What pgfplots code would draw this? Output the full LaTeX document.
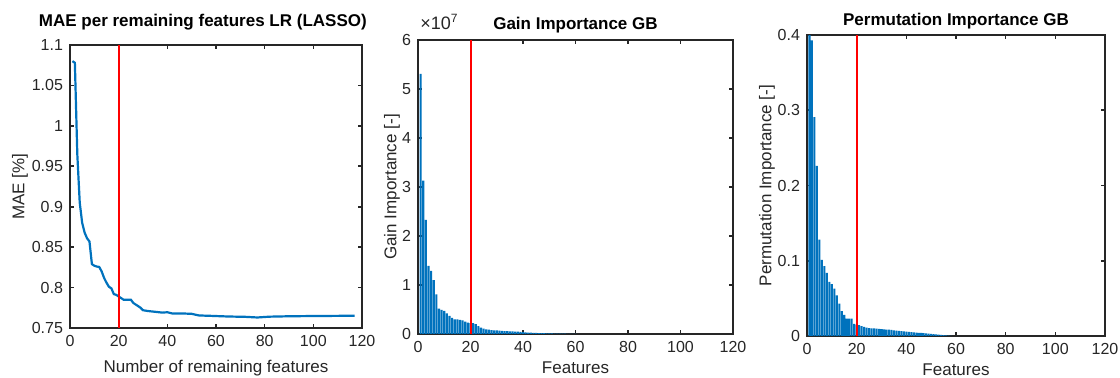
\documentclass[border=0pt]{standalone}
\usepackage{fontspec}
\setmainfont{Liberation Sans}
\usepackage{pgfplots}
\pgfplotsset{compat=1.18}
\definecolor{mblue}{rgb}{0,0.447,0.741}
\definecolor{mgray}{rgb}{0.15,0.15,0.15}
\pgfplotsset{
  mstyle/.style={
    scale only axis,
    axis line style={mgray, line width=0.8pt},
    every tick/.style={mgray, line width=0.8pt},
    major tick length=2pt,
    tick align=inside,
    xmin=0, xmax=120, xtick={0,20,40,60,80,100,120},
    tick label style={font=\fontsize{8}{9}\selectfont, text=mgray},
    label style={font=\fontsize{8.5}{10}\selectfont, text=mgray},
    every axis title/.style={at={(0.5,1)}, anchor=center, font=\fontsize{8.5}{10}\selectfont\bfseries},
    /pgf/number format/assume math mode=true,
    scaled y ticks=false,
    clip=true,
  }
}
\begin{document}
\begin{tikzpicture}
\useasboundingbox (0,0) rectangle (560pt,189pt);
% Panel 1
\begin{axis}[mstyle, at={(35pt,25pt)}, anchor=south west, width=146pt, height=141.5pt,
  ymin=0.75, ymax=1.1,
  ytick={0.75,0.8,0.85,0.9,0.95,1,1.05,1.1},
  yticklabels={0.75,0.8,0.85,0.9,0.95,1,1.05,1.1},
  title={MAE per remaining features LR (LASSO)},
  title style={at={(axis description cs:0.455,1.081)}},
  xlabel={Number of remaining features},
  xlabel style={at={(axis description cs:0.5,-0.141)}, anchor=center},
  ylabel={MAE [\%]},
  ylabel style={at={(axis description cs:-0.171,0.5)}, anchor=center, rotate=0},
]
\addplot[mblue, line width=1.1pt] coordinates {
(1,1.080) (2,1.078) (3,0.965) (4,0.905) (5,0.880) (6,0.868) (7,0.861) (8,0.857)
(9,0.829) (10,0.827) (11,0.826) (12,0.8255) (13,0.820) (14,0.812) (15,0.806)
(16,0.801) (17,0.799) (18,0.792) (19,0.791) (20,0.789) (21,0.787) (22,0.785)
(23,0.785) (24,0.785) (25,0.785) (26,0.781) (27,0.779) (28,0.777) (29,0.775)
(30,0.772) (32,0.771) (35,0.770) (38,0.769) (40,0.7695) (42,0.768) (46,0.768)
(50,0.7675) (53,0.7655) (58,0.765) (65,0.7642) (72,0.7638) (77,0.763) (82,0.764)
(90,0.7645) (100,0.7648) (110,0.765) (117,0.7652)};
\addplot[red, line width=1pt] coordinates {(20,0.75) (20,1.1)};
\end{axis}
% Panel 2
\begin{axis}[mstyle, clip=false, at={(209pt,22pt)}, anchor=south west, width=157.5pt, height=147pt,
  ymin=0, ymax=6, ytick={0,1,2,3,4,5,6},
  title={Gain Importance GB},
  title style={at={(axis description cs:0.5,1.051)}},
  xlabel={Features},
  xlabel style={at={(axis description cs:0.5,-0.116)}, anchor=center},
  ylabel={Gain Importance [-]},
  ylabel style={at={(axis description cs:-0.0825,0.5)}, anchor=center, rotate=0},
]
\addplot[ybar, bar width=0.82, fill=mblue, draw=none] coordinates {
(1,5.31) (2,3.13) (3,2.33) (4,1.39) (5,1.29) (6,1.10) (7,0.81) (8,0.52) (9,0.49) (10,0.47)
(11,0.42) (12,0.37) (13,0.33) (14,0.30) (15,0.30) (16,0.29) (17,0.28) (18,0.25) (19,0.23) (20,0.22)
(21,0.22) (22,0.20) (23,0.16) (24,0.13) (25,0.11) (26,0.095) (27,0.09) (28,0.08) (29,0.075) (30,0.075)
(31,0.07) (32,0.065) (33,0.06) (34,0.06) (35,0.055) (36,0.055) (37,0.05) (38,0.05) (39,0.045) (40,0.04)
(41,0.035) (42,0.03) (43,0.03) (44,0.025) (45,0.025) (46,0.02) (47,0.02) (48,0.02) (49,0.015) (50,0.015)
(51,0.012) (52,0.01) (53,0.01) (54,0.008) (55,0.006) (56,0.005) (57,0.004) (58,0.003) (59,0.002) (60,0.001)};
\addplot[red, line width=1pt] coordinates {(20,0) (20,6)};
\node[anchor=base west, text=mgray, inner sep=0pt] at ([xshift=1pt,yshift=5pt]rel axis cs:0,1) {\fontsize{9}{10}\selectfont ×10\textsuperscript{7}};
\end{axis}
% Panel 3
\begin{axis}[mstyle, at={(403.5pt,21pt)}, anchor=south west, width=149pt, height=150.5pt,
  ymin=0, ymax=0.4, ytick={0,0.1,0.2,0.3,0.4},
  yticklabels={0,0.1,0.2,0.3,0.4},
  title={Permutation Importance GB},
  title style={at={(axis description cs:0.5,1.047)}},
  xlabel={Features},
  xlabel style={at={(axis description cs:0.5,-0.112)}, anchor=center},
  ylabel={Permutation Importance [-]},
  ylabel style={at={(axis description cs:-0.134,0.5)}, anchor=center, rotate=0},
]
\addplot[ybar, bar width=0.82, fill=mblue, draw=none] coordinates {
(1,0.400) (2,0.393) (3,0.291) (4,0.226) (5,0.128) (6,0.101) (7,0.093) (8,0.084) (9,0.072) (10,0.069)
(11,0.063) (12,0.054) (13,0.043) (14,0.033) (15,0.028) (16,0.023) (17,0.023) (18,0.023) (19,0.016) (20,0.015)
(21,0.0145) (22,0.013) (23,0.012) (24,0.011) (25,0.0105) (26,0.0102) (27,0.010) (28,0.0098) (29,0.0095) (30,0.009)
(31,0.0088) (32,0.0085) (33,0.0083) (34,0.008) (35,0.0075) (36,0.007) (37,0.0068) (38,0.0065) (39,0.006) (40,0.0058)
(41,0.0055) (42,0.005) (43,0.0048) (44,0.0045) (45,0.0042) (46,0.004) (47,0.0037) (48,0.0034) (49,0.003) (50,0.0027)
(51,0.0024) (52,0.002) (53,0.0017) (54,0.0014) (55,0.0011) (56,0.0008) (57,0.0005) (58,0.0003)};
\addplot[red, line width=1pt] coordinates {(20,0) (20,0.4)};
\end{axis}
\end{tikzpicture}
\end{document}
